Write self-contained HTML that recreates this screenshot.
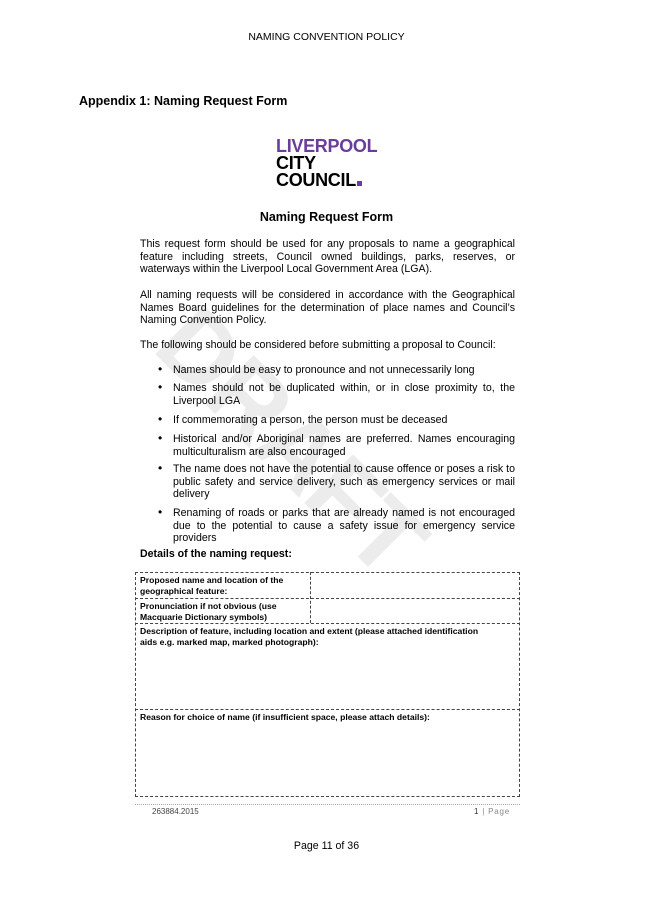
<!DOCTYPE html>
<html><head><style>
body{margin:0;width:653px;height:923px;background:#fff;position:relative;overflow:hidden;font-family:"Liberation Sans",Arial,sans-serif;color:#000}
.a{position:absolute;white-space:nowrap}
.p{position:absolute;left:140px;width:375px;font-size:10.6px;line-height:12.5px;text-align:justify}
.b{position:absolute;left:173px;width:342px;font-size:10.6px;line-height:12.5px;text-align:justify}
.d{position:absolute;left:158px;font-size:12px}
.c{position:absolute;font-size:8.6px;font-weight:bold;line-height:10.5px}
.bx{position:absolute;border:1px dashed #444;box-sizing:border-box}
</style></head><body>
<div class="a" style="left:215px;top:285px;font-size:100px;font-weight:bold;color:#ececec;transform:rotate(45deg);transform-origin:left top;letter-spacing:-2px">DRAFT</div>
<div class="a" style="left:0;width:653px;text-align:center;top:31px;font-size:10.5px">NAMING CONVENTION POLICY</div>
<div class="a" style="left:79px;top:94px;font-size:12.5px;font-weight:bold">Appendix 1: Naming Request Form</div>
<div class="a" style="left:276px;top:138px;font-size:18px;line-height:17px;font-weight:bold;letter-spacing:-0.3px"><span style="color:#6a3d98">LIVERPOOL</span><br>CITY<br>COUNCIL<span style="display:inline-block;width:5px;height:5px;background:#6a3d98;margin-left:1px"></span></div>
<div class="a" style="left:0;width:653px;text-align:center;top:210px;font-size:12.5px;font-weight:bold">Naming Request Form</div>
<div class="p" style="top:238px">This request form should be used for any proposals to name a geographical feature including streets, Council owned buildings, parks, reserves, or waterways within the Liverpool Local Government Area (LGA).</div>
<div class="p" style="top:289px">All naming requests will be considered in accordance with the Geographical Names Board guidelines for the determination of place names and Council’s Naming Convention Policy.</div>
<div class="p" style="top:339px">The following should be considered before submitting a proposal to Council:</div>
<div class="d" style="top:362px">•</div><div class="b" style="top:364px">Names should be easy to pronounce and not unnecessarily long</div>
<div class="d" style="top:380px">•</div><div class="b" style="top:382px">Names should not be duplicated within, or in close proximity to, the Liverpool LGA</div>
<div class="d" style="top:412px">•</div><div class="b" style="top:414px">If commemorating a person, the person must be deceased</div>
<div class="d" style="top:431px">•</div><div class="b" style="top:433px">Historical and/or Aboriginal names are preferred. Names encouraging multiculturalism are also encouraged</div>
<div class="d" style="top:461px">•</div><div class="b" style="top:463px">The name does not have the potential to cause offence or poses a risk to public safety and service delivery, such as emergency services or mail delivery</div>
<div class="d" style="top:505px">•</div><div class="b" style="top:507px">Renaming of roads or parks that are already named is not encouraged due to the potential to cause a safety issue for emergency service providers</div>
<div class="a" style="left:140px;top:548px;font-size:10.6px;font-weight:bold">Details of the naming request:</div>
<div class="bx" style="left:135px;top:572px;width:385px;height:225px"></div>
<div class="bx" style="left:135px;top:598px;width:385px;height:26px;border-left:none;border-right:none"></div>
<div class="bx" style="left:135px;top:709px;width:385px;height:1px;border-left:none;border-right:none;border-bottom:none"></div>
<div class="bx" style="left:310px;top:572px;width:1px;height:51px;border-top:none;border-bottom:none;border-right:none"></div>
<div class="c" style="left:140px;top:575px">Proposed name and location of the<br>geographical feature:</div>
<div class="c" style="left:140px;top:601px">Pronunciation if not obvious (use<br>Macquarie Dictionary symbols)</div>
<div class="c" style="left:140px;top:626px">Description of feature, including location and extent (please attached identification<br>aids e.g. marked map, marked photograph):</div>
<div class="c" style="left:140px;top:712px">Reason for choice of name (if insufficient space, please attach details):</div>
<div class="a" style="left:135px;top:804px;width:385px;border-top:1px dotted #aaa"></div>
<div class="a" style="left:152px;top:807px;font-size:8px;color:#444">263884.2015</div>
<div class="a" style="left:474px;top:807px;font-size:8px;color:#888;letter-spacing:0.8px"><span style="color:#333">1</span> | Page</div>
<div class="a" style="left:0;width:653px;text-align:center;top:840px;font-size:10.6px">Page 11 of 36</div>
</body></html>
